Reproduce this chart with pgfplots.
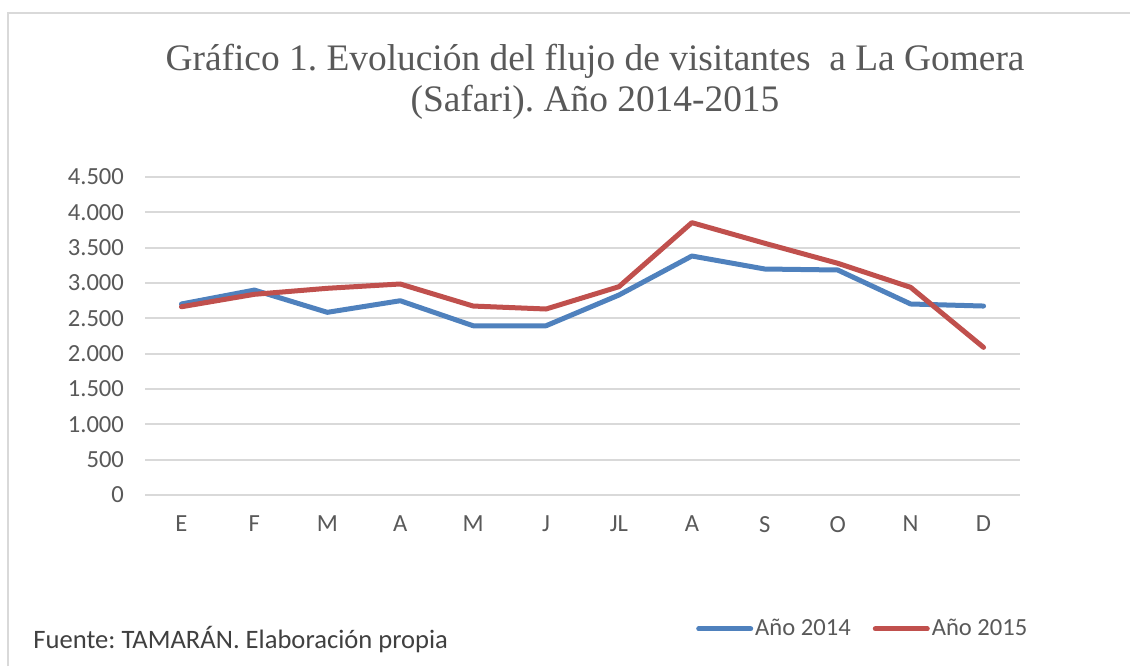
\documentclass[border=0pt]{standalone}
\usepackage{pgfplots}
\pgfplotsset{compat=1.18}
\usepackage{fontspec}
\setmainfont{Carlito}
\newfontfamily\timesfont{Liberation Serif}
\definecolor{bl}{HTML}{4F81BD}
\definecolor{rd}{HTML}{C0504D}
\definecolor{gridc}{HTML}{D9D9D9}
\definecolor{txt}{HTML}{595959}
\frenchspacing
\begin{document}
\begin{tikzpicture}
\path[use as bounding box] (0,0) rectangle (565pt,333pt);
\draw[gridc, line width=1pt] (3.75pt,0) -- (3.75pt,326.5pt) -- (565pt,326.5pt);
\node[text=txt, align=center, font=\timesfont\fontsize{18.7}{20.5}\selectfont] at (297.5pt,292pt)
  {Gráfico 1. Evolución del flujo de visitantes\ \ a La Gomera\\(Safari). Año 2014-2015};
\node[anchor=west, inner sep=0pt, text=black!75, font=\fontsize{13.3}{15}\selectfont] at (16.5pt,13pt) {Fuente: TAMARÁN. Elaboración propia};
\begin{axis}[
  at={(72.5pt,85.5pt)}, anchor=south west,
  scale only axis, width=437.5pt, height=159pt,
  xmin=0.5, xmax=12.5, ymin=0, ymax=4500,
  xtick={1,...,12},
  xticklabels={E,F,M,A,M,J,JL,A,S,O,N,D},
  ytick={0,500,...,4500},
  axis line style={draw=none},
  major tick length=0pt,
  ymajorgrids, grid style={gridc, line width=0.9pt},
  tick label style={text=txt, font=\fontsize{12.3}{14}\selectfont},
  yticklabel style={xshift=-7pt},
  xticklabel style={yshift=-7pt},
  /pgf/number format/.cd, 1000 sep={.}, assume math mode=true, /pgfplots/.cd,
  legend columns=2,
  legend style={at={(rel axis cs:0.6295,-0.421)}, anchor=west, draw=none, fill=none,
    font=\fontsize{12.3}{14}\selectfont, text=txt, inner sep=0pt,
    nodes={inner sep=1pt},
    /tikz/every even column/.append style={column sep=10pt}},
  legend image code/.code={\draw[#1, line width=2.5pt, line cap=round] (0pt,0pt) -- (26pt,0pt);},
]
\addplot[bl, line width=2.5pt, line join=round, line cap=round] coordinates {
(1,2703) (2,2900) (3,2585) (4,2749) (5,2395) (6,2395) (7,2830) (8,3382) (9,3198) (10,3184) (11,2703) (12,2674)};
\addlegendentry{Año 2014}
\addplot[rd, line width=2.5pt, line join=round, line cap=round] coordinates {
(1,2664) (2,2840) (3,2925) (4,2986) (5,2674) (6,2632) (7,2948) (8,3854) (9,3562) (10,3279) (11,2939) (12,2089)};
\addlegendentry{Año 2015}
\end{axis}
\end{tikzpicture}
\end{document}
